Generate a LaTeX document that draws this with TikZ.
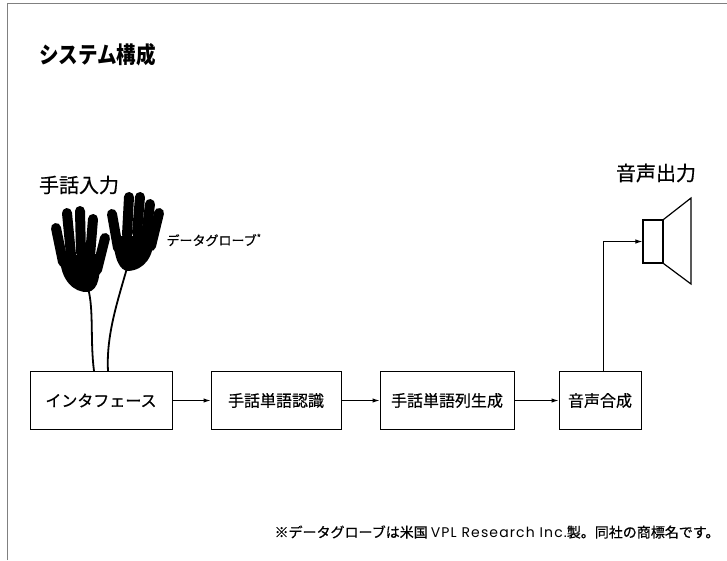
\documentclass[tikz,border=0pt]{standalone}
\usepackage{fontspec}
\setmainfont{Noto Sans CJK JP}[FakeBold=0.6]
\newfontfamily\titlefont{Noto Sans CJK JP}
\newfontfamily\latinfont{Poppins}[LetterSpace=8]
\usetikzlibrary{positioning,arrows.meta}

\begin{document}
\begin{tikzpicture}[
    x=1pt, y=-1pt,
    node distance = 0pt and 38pt,
    block/.style = {draw, line width=1pt, rectangle, minimum height=58pt, inner sep=0pt, font=\fontsize{16}{16}\selectfont},
    line/.style = {draw, line width=1pt},
    arr/.style = {line, -{Latex[length=7pt,width=4.5pt]}},
    finger/.style = {line width=10pt, line cap=round},
    cable/.style = {line width=1.8pt},
    label/.style = {font=\fontsize{20}{20}\selectfont}
  ]
  \useasboundingbox (0,0) rectangle (727,560);

  % Marco
  \draw [line width=0.8pt, gray] (7,560) -- (7,3) -- (727,3);

  % Titulos
  \node [anchor=west, xscale=0.85, font=\titlefont\bfseries\fontsize{23}{23}\selectfont] (title) at (36,55) {システム構成};
  \node [label] (inlbl) at (79,185) {手話入力};
  \node [label] (outlbl) at (656,173) {音声出力};

  % Bloques
  \node [block, minimum width=142pt] (iface) at (101,400.5) {インタフェース};
  \node [block, minimum width=130pt, right=of iface] (recog) {手話単語認識};
  \node [block, minimum width=134pt, right=of recog] (seq) {手話単語列生成};
  \node [block, minimum width=82pt, right=44pt of seq] (synth) {音声合成};

  % Flechas
  \draw [arr] (iface) -- (recog);
  \draw [arr] (recog) -- (seq);
  \draw [arr] (seq) -- (synth);

  % Guante izquierdo
  \fill (60,256) .. controls (60,280) and (74,293) .. (88,292)
        .. controls (99,290) and (101,274) .. (99,254) -- cycle;
  \draw [finger] (63,262) -- (56,228);
  \draw [finger] (71,255) -- (67,213);
  \draw [finger] (81,253) -- (80,211);
  \draw [finger] (90,256) -- (93,219);
  \draw [finger] (97,270) -- (105,238);
  \coordinate (lwrist) at (88,288);

  % Guante derecho
  \fill (114,236) .. controls (113,258) and (120,271) .. (128,271)
        .. controls (145,270) and (154,256) .. (154,236) -- cycle;
  \draw [finger] (118,248) -- (112,214);
  \draw [finger] (127,235) -- (129,197);
  \draw [finger] (137,233) -- (140,197);
  \draw [finger] (146,236) -- (150,204);
  \draw [finger] (151,246) -- (159,213);
  \coordinate (rwrist) at (127,268);

  \node [anchor=west, font=\fontsize{13}{13}\selectfont] (glove) at (163,240) {データグローブ\textsuperscript{*}};

  % Cables
  \draw [cable] (lwrist) .. controls (94,310) and (90,340) .. ([xshift=-7pt]iface.north);
  \draw [cable] (rwrist) .. controls (118,300) and (106,335) .. ([xshift=7pt]iface.north);

  % Altavoz
  \node [draw, line width=1.2pt, minimum width=20pt, minimum height=43pt, inner sep=0pt] (spk) at (653,241.5) {};
  \draw [line width=1.2pt] (spk.north east) -- (691,198) -- (691,284) -- (spk.south east);
  \draw [arr] ([xshift=3pt]synth.north) |- (spk.west);

  % Nota
  \node [font=\fontsize{14}{14}\selectfont] (note) at (497,532) {※データグローブは米国 {\latinfont VPL Research Inc.}製。同社の商標名です。};
\end{tikzpicture}
\end{document}
